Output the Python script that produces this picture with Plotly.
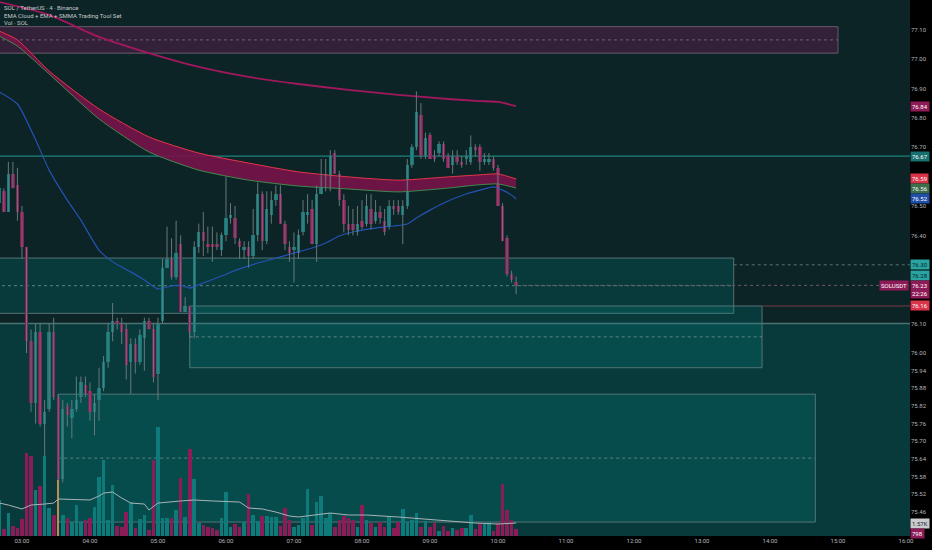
import pandas as pd
import plotly.graph_objects as go

# SOL / USDT, 4 minute candles, 02:40 -> 10:16
times = pd.date_range("2025-01-01 02:40", periods=115, freq="4min")

open_ = [
    76.51, 76.55, 76.48, 76.61, 76.57, 76.48, 76.36, 76.04, 75.83, 76.07,
    75.76, 75.81, 76.07, 75.85, 75.57, 75.82, 75.78, 75.81, 75.85, 75.89,
    75.87, 75.80, 75.84, 75.88, 75.97, 76.07, 76.11, 76.10, 76.08, 75.97,
    76.03, 75.97, 76.05, 76.11, 76.08, 75.93, 76.11, 76.29, 76.32, 76.26,
    76.37, 76.14, 76.16, 76.07, 76.36, 76.41, 76.37, 76.37, 76.37, 76.35,
    76.40, 76.46, 76.46, 76.38, 76.35, 76.36, 76.33, 76.40, 76.54, 76.38,
    76.47, 76.52, 76.54, 76.44, 76.36, 76.35, 76.34, 76.41, 76.47, 76.49,
    76.37, 76.54, 76.60, 76.56, 76.68, 76.61, 76.52, 76.44, 76.44, 76.41,
    76.45, 76.44, 76.49, 76.45, 76.48, 76.45, 76.43, 76.50, 76.50, 76.47,
    76.50, 76.64, 76.70, 76.81, 76.67, 76.74, 76.67, 76.68, 76.71, 76.67,
    76.64, 76.67, 76.65, 76.66, 76.65, 76.70, 76.70, 76.65, 76.65, 76.66,
    76.63, 76.50, 76.39, 76.27, 76.24,
]
high = [
    76.59, 76.56, 76.65, 76.65, 76.63, 76.50, 76.36, 76.08, 76.10, 76.10,
    75.84, 76.10, 76.12, 75.86, 75.84, 75.83, 75.84, 75.92, 75.92, 75.92,
    75.90, 75.86, 75.95, 75.99, 76.10, 76.17, 76.12, 76.12, 76.10, 76.05,
    76.05, 76.08, 76.12, 76.12, 76.10, 76.12, 76.32, 76.43, 76.39, 76.45,
    76.40, 76.19, 76.16, 76.38, 76.44, 76.48, 76.43, 76.43, 76.41, 76.41,
    76.60, 76.51, 76.50, 76.39, 76.38, 76.38, 76.49, 76.58, 76.55, 76.55,
    76.55, 76.57, 76.57, 76.45, 76.38, 76.41, 76.42, 76.52, 76.54, 76.52,
    76.57, 76.66, 76.66, 76.69, 76.69, 76.62, 76.54, 76.50, 76.49, 76.50,
    76.52, 76.54, 76.54, 76.52, 76.50, 76.49, 76.52, 76.52, 76.52, 76.52,
    76.66, 76.71, 76.89, 76.85, 76.75, 76.75, 76.69, 76.72, 76.72, 76.68,
    76.69, 76.69, 76.67, 76.69, 76.74, 76.71, 76.71, 76.68, 76.68, 76.67,
    76.64, 76.51, 76.40, 76.28, 76.26,
]
low = [
    76.50, 76.48, 76.48, 76.56, 76.45, 76.32, 76.00, 75.80, 75.76, 75.75,
    75.65, 75.80, 75.84, 75.56, 75.56, 75.75, 75.71, 75.80, 75.83, 75.85,
    75.77, 75.72, 75.77, 75.87, 75.95, 76.04, 76.08, 76.03, 75.91, 75.86,
    75.93, 75.96, 75.94, 76.08, 75.90, 75.84, 76.10, 76.29, 76.25, 76.25,
    76.14, 76.14, 76.05, 76.05, 76.34, 76.33, 76.34, 76.31, 76.35, 76.33,
    76.38, 76.44, 76.37, 76.32, 76.32, 76.29, 76.32, 76.38, 76.35, 76.37,
    76.44, 76.50, 76.44, 76.35, 76.31, 76.24, 76.32, 76.40, 76.44, 76.37,
    76.31, 76.54, 76.55, 76.55, 76.61, 76.50, 76.41, 76.40, 76.40, 76.40,
    76.42, 76.43, 76.42, 76.44, 76.44, 76.40, 76.42, 76.47, 76.47, 76.37,
    76.49, 76.63, 76.69, 76.66, 76.66, 76.66, 76.65, 76.67, 76.65, 76.63,
    76.61, 76.64, 76.63, 76.64, 76.64, 76.67, 76.62, 76.64, 76.64, 76.62,
    76.50, 76.38, 76.26, 76.24, 76.20,
]
close = [
    76.56, 76.48, 76.61, 76.56, 76.48, 76.36, 76.04, 75.83, 76.07, 75.76,
    75.80, 76.07, 75.85, 75.57, 75.81, 75.79, 75.81, 75.84, 75.90, 75.86,
    75.80, 75.83, 75.88, 75.97, 76.07, 76.11, 76.10, 76.07, 75.96, 76.03,
    75.97, 76.06, 76.11, 76.08, 75.92, 76.10, 76.29, 76.32, 76.26, 76.34,
    76.14, 76.16, 76.07, 76.36, 76.41, 76.38, 76.36, 76.36, 76.36, 76.40,
    76.46, 76.47, 76.39, 76.36, 76.36, 76.33, 76.40, 76.54, 76.38, 76.49,
    76.52, 76.54, 76.44, 76.37, 76.34, 76.36, 76.40, 76.48, 76.48, 76.37,
    76.54, 76.60, 76.61, 76.67, 76.61, 76.52, 76.44, 76.42, 76.42, 76.44,
    76.43, 76.50, 76.44, 76.48, 76.46, 76.41, 76.50, 76.49, 76.48, 76.50,
    76.64, 76.70, 76.82, 76.67, 76.73, 76.66, 76.66, 76.71, 76.66, 76.63,
    76.67, 76.65, 76.64, 76.67, 76.70, 76.69, 76.65, 76.66, 76.66, 76.63,
    76.50, 76.38, 76.27, 76.25, 76.23,
]
# volume in thousands of SOL
volume_k = [
    4.36, 0.85, 2.78, 1.21, 0.97, 2.06, 10.04, 9.68, 5.57, 6.05,
    9.68, 3.39, 2.54, 6.78, 2.54, 2.18, 1.69, 3.75, 1.69, 1.94,
    2.18, 3.51, 7.14, 9.20, 1.94, 6.17, 1.21, 1.09, 2.90, 4.11,
    0.97, 2.06, 2.54, 0.73, 9.20, 13.19, 2.18, 2.18, 2.18, 3.15,
    7.02, 2.30, 10.53, 6.90, 1.57, 1.33, 1.09, 0.97, 0.73, 2.18,
    5.32, 1.09, 1.45, 1.09, 1.69, 5.08, 2.54, 1.82, 2.42, 2.42,
    2.30, 2.30, 1.21, 3.39, 1.94, 1.09, 1.33, 2.18, 5.69, 1.33,
    4.11, 4.84, 2.18, 2.78, 1.09, 1.94, 2.42, 2.18, 1.94, 1.09,
    3.75, 1.94, 1.57, 1.09, 1.69, 1.09, 2.42, 0.97, 1.69, 3.27,
    1.69, 1.94, 2.78, 1.09, 1.82, 1.09, 1.57, 0.61, 1.21, 0.61,
    0.97, 0.73, 0.97, 0.97, 2.54, 0.85, 1.45, 1.45, 1.69, 0.61,
    1.57, 6.29, 3.15, 1.94, 0.80,
]
marked_bar = 13  # the 03:32 bar drawn as a thin orange marker

# indicator readings (candle index, value)
vma_idx = [0, 2, 5, 7, 10, 12, 13, 17, 20, 22, 23, 25, 27, 29, 32, 33, 35, 40, 43,
           47, 53, 55, 58, 61, 64, 66, 69, 73, 77, 81, 88, 93, 97, 102, 105, 110, 114]
vma_k = [3.99, 3.75, 3.27, 3.75, 3.87, 3.99, 4.48, 4.36, 4.36, 4.84, 5.20, 5.32, 4.60,
         3.99, 3.87, 3.15, 3.99, 4.24, 4.36, 4.24, 4.11, 3.39, 3.27, 2.90, 2.42, 2.30,
         2.54, 2.78, 2.54, 2.54, 2.30, 2.06, 1.94, 1.69, 1.57, 1.45, 1.57]

cloud_idx = [0, 4, 11, 22, 33, 44, 55, 66, 77, 88, 99, 105, 110, 114]
cloud_fast = [77.095, 77.065, 76.959, 76.830, 76.735, 76.680, 76.646, 76.616,
              76.599, 76.588, 76.599, 76.605, 76.609, 76.592]
cloud_slow = [77.078, 77.044, 76.949, 76.796, 76.684, 76.622, 76.588, 76.568,
              76.558, 76.548, 76.561, 76.571, 76.575, 76.561]

smma_idx = [0, 11, 22, 33, 44, 55, 66, 77, 88, 99, 106, 110, 114]
smma = [77.194, 77.150, 77.075, 77.020, 76.973, 76.939, 76.915, 76.895, 76.878,
        76.864, 76.857, 76.854, 76.840]

ema_idx = [0, 4, 8, 11, 15, 18, 22, 25, 29, 32, 35, 38, 40, 42, 45, 49, 53, 57, 61,
           65, 69, 72, 75, 79, 83, 87, 90, 92, 95, 99, 103, 106, 109, 111, 113, 114]
ema = [76.888, 76.847, 76.725, 76.622, 76.520, 76.452, 76.350, 76.310, 76.276,
       76.248, 76.218, 76.228, 76.231, 76.221, 76.238, 76.262, 76.286, 76.306,
       76.323, 76.340, 76.357, 76.374, 76.398, 76.415, 76.425, 76.432, 76.439,
       76.459, 76.486, 76.517, 76.541, 76.554, 76.565, 76.554, 76.537, 76.524]

# drawn zones: (start, end, bottom, top)
day = "2025-01-01 "
zone_purple = (day + "02:00", day + "15:00", 77.02, 77.11)
zone_upper = (day + "02:00", day + "13:28", 76.135, 76.323)
zone_middle = (day + "05:28", day + "13:53", 75.95, 76.16)
zone_lower = (day + "03:32", day + "14:40", 75.425, 75.86)
zone_base_top = 76.10
level_resist = 76.67
level_dash = 76.30
level_red = 76.16
last_price = 76.23

hour_ticks = pd.date_range(day + "03:00", day + "16:00", freq="1h")
price_ticks = [77.20, 77.10, 77.00, 76.90, 76.80, 76.70, 76.60, 76.50, 76.40, 76.30,
               76.20, 76.10, 76.00, 75.94, 75.88, 75.82, 75.76, 75.70, 75.64, 75.58,
               75.52, 75.46]

TEAL = "#0e7b7a"
MAG = "#8d1b57"
BG = "#0c2425"
DASH = "3px,3px"

fig = go.Figure()

# volume pane
vol_colors = [TEAL if c >= o else MAG for o, c in zip(open_, close)]
vol_colors[marked_bar] = "#c08a52"
vol_width = [190000] * len(times)
vol_width[marked_bar] = 40000
fig.add_trace(go.Bar(x=times, y=volume_k, yaxis="y2", marker_color=vol_colors,
                     marker_line_width=0, width=vol_width, showlegend=False))
fig.add_trace(go.Scatter(x=times[vma_idx], y=vma_k, yaxis="y2", mode="lines",
                         line=dict(color="#a9b3b5", width=1), showlegend=False))

# EMA cloud
fig.add_trace(go.Scatter(x=times[cloud_idx], y=cloud_slow, mode="lines",
                         line=dict(color="#3f8a4c", width=1, shape="spline", smoothing=0.6),
                         showlegend=False))
fig.add_trace(go.Scatter(x=times[cloud_idx], y=cloud_fast, mode="lines", fill="tonexty",
                         fillcolor="rgba(118,20,74,0.92)",
                         line=dict(color="#e8344a", width=1, shape="spline", smoothing=0.6),
                         showlegend=False))
fig.add_trace(go.Scatter(x=times[smma_idx], y=smma, mode="lines",
                         line=dict(color="#a1185e", width=1.8, shape="spline", smoothing=0.6),
                         showlegend=False))
fig.add_trace(go.Scatter(x=times[ema_idx], y=ema, mode="lines",
                         line=dict(color="#2452b4", width=1.2, shape="spline", smoothing=0.6),
                         showlegend=False))

# candles: wicks then bodies
wx, wy = [], []
for t, h, l in zip(times, high, low):
    wx += [t, t, None]
    wy += [h, l, None]
fig.add_trace(go.Scatter(x=wx, y=wy, mode="lines", line=dict(color="#66797a", width=1),
                         showlegend=False, hoverinfo="skip"))
body_base = [min(o, c) for o, c in zip(open_, close)]
body_size = [max(abs(c - o), 0.004) for o, c in zip(open_, close)]
body_colors = [TEAL if c >= o else MAG for o, c in zip(open_, close)]
fig.add_trace(go.Bar(x=times, y=body_size, base=body_base, marker_color=body_colors,
                     marker_line_width=0, width=180000, showlegend=False))

# zones and levels
shapes = []


def box(z, fill, edge, mid):
    x0, x1, y0, y1 = z
    shapes.append(dict(type="rect", xref="x", yref="y", x0=x0, x1=x1, y0=y0, y1=y1,
                       fillcolor=fill, line=dict(color=edge, width=1), layer="below"))
    shapes.append(dict(type="line", xref="x", yref="y", x0=x0, x1=x1,
                       y0=(y0 + y1) / 2, y1=(y0 + y1) / 2,
                       line=dict(color=mid, width=1, dash=DASH), layer="below"))


def hline(y, x0, color, dash="solid", width=1):
    shapes.append(dict(type="line", xref="x", yref="y", x0=x0, x1=day + "17:00",
                       y0=y, y1=y, line=dict(color=color, width=width, dash=dash),
                       layer="below"))


teal_fill = "rgba(0,150,150,0.2)"
shapes.append(dict(type="rect", xref="x", yref="y", x0=day + "02:00", x1=day + "17:00",
                   y0=75.0, y1=zone_base_top, fillcolor=teal_fill,
                   line=dict(width=0), layer="below"))
hline(zone_base_top, day + "02:00", "#4d7274", width=1.5)
box(zone_purple, "rgba(140,25,105,0.3)", "#6a5a6c", "#7c5a76")
box(zone_upper, teal_fill, "#557475", "#5f7f80")
box(zone_middle, teal_fill, "#557475", "#5f7f80")
box(zone_lower, teal_fill, "#557475", "#5f7f80")
hline(level_resist, day + "02:00", "#1f8080", width=1.3)
hline(level_dash, zone_upper[1], "#557475", dash=DASH)
hline(level_red, zone_middle[1], "#7a3b45")
hline(last_price, times[-1], "#6b5a66", dash=DASH)

# right side price labels
ann = []


def tag(y, text, bg, fg="#ffffff", yref="y", yshift=0):
    ann.append(dict(x=1, xref="paper", xanchor="left", y=y, yref=yref, yshift=yshift,
                    text=text, showarrow=False, bgcolor=bg, borderpad=1,
                    font=dict(size=6, color=fg, family="Roboto")))


tag(smma[-1], "76.84", MAG)
tag(level_resist, "76.67", "#17706f")
tag(cloud_fast[-1], "76.59", "#d9344a")
tag(cloud_slow[-1], "76.56", "#3d6e4c")
tag(ema[-1], "76.52", "#1f4fa6")
tag(level_dash, "76.30", "#2aa3a3", fg="#0c2425")
tag(76.265, "76.28", "#2aa3a3", fg="#0c2425")
tag(last_price, "76.23<br>22:26", MAG, yshift=-4)
tag(level_red, "76.16", "#d9344a")
tag(vma_k[-1], "1.57K", "#c9cccf", fg="#1a1a1a", yref="y2")
tag(volume_k[-1], "798", MAG, yref="y2", yshift=-4)
ann.append(dict(x=1, xref="paper", xanchor="right", xshift=-1, y=last_price, yref="y",
                text="SOLUSDT", showarrow=False, bgcolor=MAG, borderpad=1,
                font=dict(size=6, color="#ffffff", family="Roboto")))

legend_lines = ["SOL / TetherUS · 4 · Binance",
                "EMA Cloud + EMA + SMMA Trading Tool Set",
                "Vol · SOL"]
for i, line in enumerate(legend_lines):
    ann.append(dict(x=0, xref="paper", xanchor="left", xshift=2, y=1, yref="paper",
                    yanchor="top", yshift=-2 - 7.5 * i, text=line, showarrow=False,
                    font=dict(size=6, color="#c5cacc", family="Roboto")))

fig.update_layout(
    width=932, height=550,
    margin=dict(l=0, r=22, t=0, b=14),
    paper_bgcolor="#000000",
    plot_bgcolor=BG,
    barmode="overlay",
    bargap=0,
    showlegend=False,
    shapes=shapes,
    annotations=ann,
    font=dict(family="Roboto", size=6, color="#b2b5be"),
    xaxis=dict(
        type="date",
        range=[day + "02:40:37", day + "16:03:32"],
        tickvals=hour_ticks,
        ticktext=[t.strftime("%H:%M") for t in hour_ticks],
        showgrid=False, zeroline=False, showline=False, ticks="",
        tickfont=dict(size=6, color="#b2b5be"),
        fixedrange=True,
    ),
    yaxis=dict(
        side="right",
        range=[75.3776, 77.2007],
        tickvals=price_ticks,
        ticktext=["%.2f" % v for v in price_ticks],
        showgrid=False, zeroline=False, showline=False, ticks="",
        tickfont=dict(size=6, color="#b2b5be"),
    ),
    yaxis2=dict(overlaying="y", range=[0, 64.9], visible=False),
)

# the page's default body margin would push the chart 8px off the window
fig.write_html("out.html", config={"displayModeBar": False},
               post_script="document.body.style.margin='0';")
